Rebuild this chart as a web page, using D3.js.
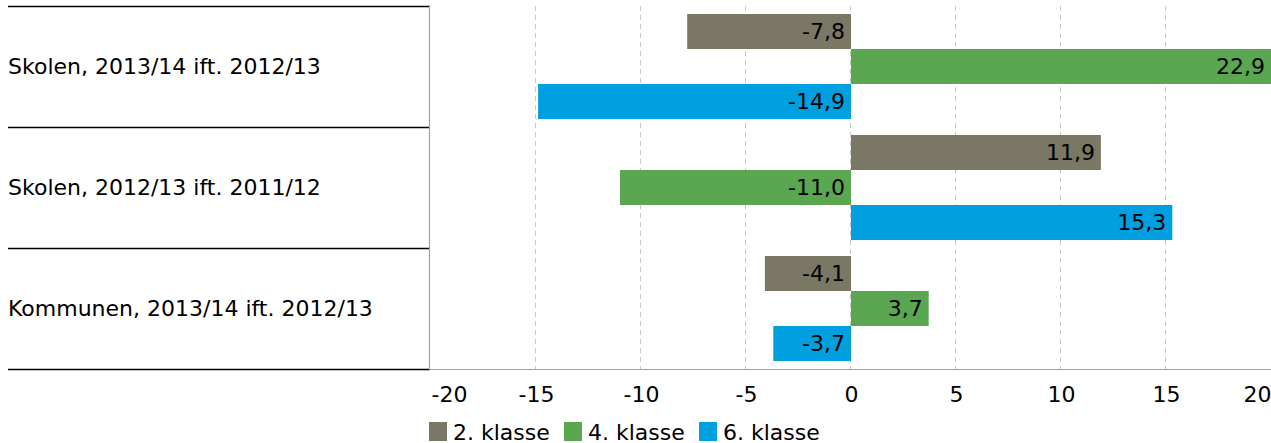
<!DOCTYPE html>
<html>
<head>
<meta charset="utf-8">
<script src="https://cdn.jsdelivr.net/npm/d3@7"></script>
<style>
  body { margin: 0; background: #fff; }
  svg { display: block; font-family: "DejaVu Sans", Verdana, sans-serif; }
</style>
</head>
<body>
<script>
var width = 1271,
    height = 443,
    fontSize = 22;

// data
var categories = ["Skolen, 2013/14 ift. 2012/13", "Skolen, 2012/13 ift. 2011/12", "Kommunen, 2013/14 ift. 2012/13"],
    series = ["2. klasse", "4. klasse", "6. klasse"],
    values2 = [-7.8, 11.9, -4.1],
    values4 = [22.9, -11.0, 3.7],
    values6 = [-14.9, 15.3, -3.7],
    xTicks = [-20, -15, -10, -5, 0, 5, 10, 15, 20],
    colors = ["#7a7865", "#5ba650", "#009fe0"];

var allValues = [values2, values4, values6];

var rows = [];
categories.forEach(function(c, i) {
  series.forEach(function(s, j) {
    rows.push({cat: c, ser: s, v: allValues[j][i], color: colors[j]});
  });
});

var xSc = d3.scaleLinear()
  .domain([-20, 20])
  .range([431, 1271]);

var ySc = d3.scaleBand()
  .domain(categories)
  .range([6, 369]);

var yInner = d3.scaleBand()
  .domain(series)
  .range([8, ySc.bandwidth() - 8]);

var svg = d3.select("body").append("svg")
  .attr("width", width)
  .attr("height", height)
  .style("font-size", fontSize + "px");

// grid lines
svg.selectAll("line.grid")
  .data(xTicks.filter(function(t) { return t > -20 && t < 20; }))
  .enter()
    .append("line")
    .attr("class", "grid")
    .attr("x1", function(d) { return xSc(d) - 0.5; })
    .attr("x2", function(d) { return xSc(d) - 0.5; })
    .attr("y1", 6)
    .attr("y2", 369)
    .style("stroke", "#c8c8c8")
    .style("stroke-width", 1)
    .style("stroke-dasharray", "5,4");

// bars
svg.selectAll("rect.bar")
  .data(rows)
  .enter()
    .append("rect")
    .attr("class", "bar")
    .attr("x", function(d) { return xSc(Math.min(0, d.v)); })
    .attr("y", function(d) { return ySc(d.cat) + yInner(d.ser); })
    .attr("width", function(d) { return Math.abs(xSc(d.v) - xSc(0)); })
    .attr("height", yInner.bandwidth())
    .style("fill", function(d) { return d.color; });

// value labels
svg.selectAll("text.val")
  .data(rows)
  .enter()
    .append("text")
    .attr("class", "val")
    .attr("x", function(d) { return Math.min(xSc(Math.max(0, d.v)), 1271) - 6; })
    .attr("y", function(d) { return ySc(d.cat) + yInner(d.ser) + yInner.bandwidth() / 2; })
    .attr("dy", "0.35em")
    .attr("text-anchor", "end")
    .style("fill", "#000")
    .text(function(d) { return d3.format(".1f")(d.v).replace("−", "-").replace(".", ","); });

// category separators
svg.selectAll("line.sep")
  .data([6].concat(categories.map(function(c) { return ySc(c) + ySc.bandwidth(); })))
  .enter()
    .append("line")
    .attr("class", "sep")
    .attr("x1", 8)
    .attr("x2", 430)
    .attr("y1", function(d) { return Math.round(d) + 0.5; })
    .attr("y2", function(d) { return Math.round(d) + 0.5; })
    .style("stroke", "#000")
    .style("stroke-width", 1.3);

// category labels
svg.selectAll("text.cat")
  .data(categories)
  .enter()
    .append("text")
    .attr("class", "cat")
    .attr("x", 8)
    .attr("y", function(d) { return ySc(d) + ySc.bandwidth() / 2; })
    .attr("dy", "0.35em")
    .style("fill", "#000")
    .text(function(d) { return d; });

// vertical axis line and bottom axis line
svg.append("line")
  .attr("x1", 429.5).attr("x2", 429.5)
  .attr("y1", 6).attr("y2", 369)
  .style("stroke", "#a0a0a0")
  .style("stroke-width", 1.2);

svg.append("line")
  .attr("x1", 429).attr("x2", 1271)
  .attr("y1", 369.5).attr("y2", 369.5)
  .style("stroke", "#a0a0a0")
  .style("stroke-width", 1.2);

// x axis
var xAxis = d3.axisBottom(xSc)
  .tickValues(xTicks)
  .tickSize(0)
  .tickPadding(0)
  .tickFormat(function(d) { return String(d); });

var gx = svg.append("g")
  .attr("transform", "translate(0,402)")
  .call(xAxis);

gx.select(".domain").remove();
gx.selectAll("text")
  .attr("y", 0)
  .attr("dy", 0)
  .style("font-family", "DejaVu Sans, Verdana, sans-serif")
  .style("font-size", fontSize + "px")
  .style("fill", "#000")
  .attr("text-anchor", function(d) { return d === -20 ? "start" : d === 20 ? "end" : "middle"; });

// legend
var legend = svg.selectAll("g.leg")
  .data(series)
  .enter()
    .append("g")
    .attr("class", "leg")
    .attr("transform", function(d, i) { return "translate(" + [429, 564, 699][i] + ",422)"; });

legend.append("rect")
  .attr("width", 18)
  .attr("height", 19)
  .style("fill", function(d, i) { return colors[i]; });

legend.append("text")
  .attr("x", 24)
  .attr("y", 18)
  .style("fill", "#000")
  .text(function(d) { return d; });
</script>
</body>
</html>
